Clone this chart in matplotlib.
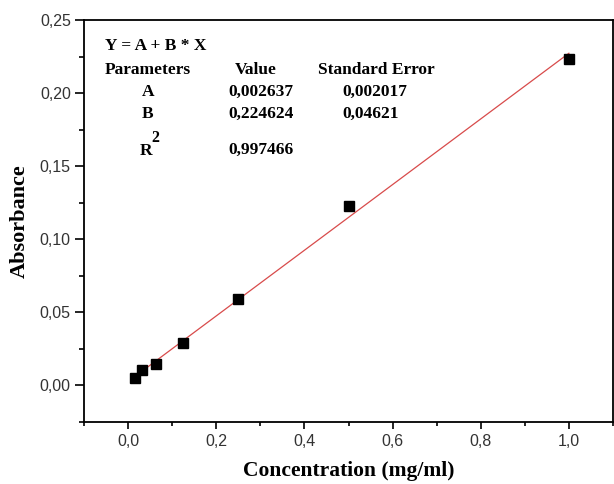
import matplotlib
matplotlib.use("Agg")
import matplotlib.pyplot as plt
import numpy as np
from matplotlib.ticker import FuncFormatter, MultipleLocator

conc = [0.015625, 0.03125, 0.0625, 0.125, 0.25, 0.5, 1.0]
absorb = [0.0048, 0.0103, 0.0150, 0.0288, 0.0589, 0.1230, 0.2235]
fit_A = 0.002637
fit_B = 0.224624

fig = plt.figure(figsize=(6.14, 4.84), dpi=100)
ax = fig.add_axes([84/614, 1-422/484, (613-84)/614, (422-20)/484])

xf = np.array([conc[0], conc[-1]])
ax.plot(xf, fit_A + fit_B*xf, color='#d84b4b', lw=0.9, zorder=2)
ax.plot(conc, absorb, 's', color='black', ms=6.5, zorder=3)

ax.set_xlim(-0.1, 1.1)
ax.set_ylim(-0.025, 0.25)
ax.xaxis.set_major_locator(MultipleLocator(0.2))
ax.xaxis.set_minor_locator(MultipleLocator(0.1))
ax.yaxis.set_major_locator(MultipleLocator(0.05))
ax.yaxis.set_minor_locator(MultipleLocator(0.025))
ax.xaxis.set_major_formatter(FuncFormatter(lambda v, p: f"{v:.1f}".replace('.', ',')))
ax.yaxis.set_major_formatter(FuncFormatter(lambda v, p: f"{v:.2f}".replace('.', ',')))
ax.tick_params(which='both', direction='out', top=False, right=False, width=1.2)
ax.tick_params(axis='y', which='major', length=6.5, labelsize=11.5, pad=3)
ax.tick_params(axis='y', which='minor', length=3.5)
ax.tick_params(axis='x', which='major', length=5, labelsize=11.5, pad=4)
ax.tick_params(axis='x', which='minor', length=3)
for lab in ax.get_xticklabels() + ax.get_yticklabels():
    lab.set_family('Liberation Sans')
    lab.set_color('#333333')
for s in ax.spines.values():
    s.set_linewidth(1.3)

ax.set_xlabel('Concentration (mg/ml)', family='Liberation Serif', weight='bold', fontsize=15.5, labelpad=8)
ax.set_ylabel('Absorbance', family='Liberation Serif', weight='bold', fontsize=16, labelpad=7)

tf = dict(family='Liberation Serif', weight='bold', fontsize=12.5, transform=fig.transFigure, va='center')
def T(x, y, s, **kw):
    d = dict(tf); d.update(kw)
    fig.text(x/614, 1-y/484, s, **d)

T(105, 46, 'Y = A + B * X')
T(105, 70, 'Parameters')
T(235, 70, 'Value')
T(318, 70, 'Standard Error')
T(142, 92, 'A')
T(228, 92, '0,002637')
T(342, 92, '0,002017')
T(142, 114, 'B')
T(228, 114, '0,224624')
T(342, 114, '0,04621')
T(140, 151, 'R')
T(151, 138, '2', fontsize=11.5)
T(228, 150, '0,997466')

fig.savefig('out.png', dpi=100)
